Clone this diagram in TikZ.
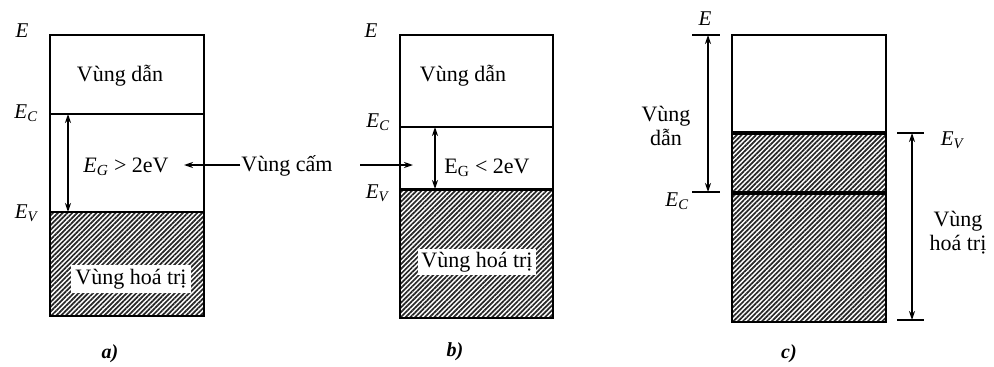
\documentclass[tikz,border=0pt]{standalone}
\usepackage{fontspec}
\setmainfont{Liberation Serif}
\usetikzlibrary{arrows.meta,patterns.meta}
\begin{document}
\begin{tikzpicture}[x=1pt,y=-1pt,
  lbl/.style={font=\fontsize{22}{24}\selectfont, inner sep=1pt},
  elbl/.style={font=\fontsize{21}{23}\selectfont\itshape, inner sep=0pt},
  boxline/.style={line width=2pt},
  hatch/.style={pattern={Lines[angle=45,distance=3.4pt,line width=1.7pt]}, pattern color=black!85},
  arr/.style={line width=1.8pt,{Stealth[length=9pt,width=6pt]}-{Stealth[length=9pt,width=6pt]}},
  sarr/.style={line width=1.8pt,-{Stealth[length=9pt,width=6pt]}},
  tick/.style={line width=1.8pt},
  sublbl/.style={font=\fontsize{20}{22}\selectfont\bfseries\itshape}]
\useasboundingbox (0,0) rectangle (994,367);
% ---------- a ----------
\fill[white] (50,212) rectangle (204,316);
\fill[hatch] (50,212) rectangle (204,316);
\draw[boxline] (50,35) rectangle (204,316);
\draw[boxline] (50,114) -- (204,114);
\draw[boxline] (50,212) -- (204,212);
\node[lbl] (ad) at (120,76) {Vùng dẫn};
\node[lbl, fill=white, inner sep=4pt] (ah) at (131,279) {Vùng hoá trị};
\node[elbl] (aE) at (22,31) {E};
\node[elbl] (aEC) at (26,113) {E\textsubscript{C}};
\node[elbl] (aEV) at (26,213) {E\textsubscript{V}};
\coordinate (aT) at (68,114);
\coordinate (aB) at (68,212);
\draw[arr] (aT) -- (aB);
\node[lbl] (aG) at (126,167) {\textit{E}\textsubscript{\textit{G}} > 2eV};
\node[lbl] (cam) at (287,166) {Vùng cấm};
\coordinate (aArr) at (184,165);
\draw[sarr] (cam.west |- aArr) -- (aArr);
\node[sublbl] (la) at (110,354) {a)};
% ---------- b ----------
\fill[white] (400,189) rectangle (553,318);
\fill[hatch] (400,189) rectangle (553,318);
\draw[boxline] (400,35) rectangle (553,318);
\draw[line width=1.2pt] (400,127) -- (553,127);
\draw[line width=3pt] (400,189) -- (553,189);
\node[lbl] (bd) at (463,76) {Vùng dẫn};
\node[lbl, fill=white, inner sep=3pt] (bh) at (477,262) {Vùng hoá trị};
\node[elbl] (bE) at (371,31) {E};
\node[elbl] (bEC) at (378,122) {E\textsubscript{C}};
\node[elbl] (bEV) at (377,193) {E\textsubscript{V}};
\coordinate (bT) at (435,127);
\coordinate (bB) at (435,189);
\draw[arr] (bT) -- (bB);
\node[lbl] (bG) at (487,168) {E\textsubscript{G} < 2eV};
\coordinate (bS) at (360,165);
\coordinate (bArr) at (413,165);
\draw[sarr] (bS) -- (bArr);
\node[sublbl] (lb) at (455,352) {b)};
% ---------- c ----------
\fill[white] (732,133) rectangle (886,322);
\fill[hatch] (732,133) rectangle (886,322);
\draw[boxline] (732,35) rectangle (886,322);
\draw[line width=4pt] (732,133) -- (886,133);
\draw[line width=4pt] (732,193) -- (886,193);
\coordinate (cEl) at (692,35);
\coordinate (cEr) at (720,35);
\draw[tick] (cEl) -- (cEr);
\coordinate (cCl) at (692,192);
\coordinate (cCr) at (720,192);
\draw[tick] (cCl) -- (cCr);
\coordinate (cT) at (708,35);
\coordinate (cB) at (708,192);
\draw[arr] (cT) -- (cB);
\node[elbl] (cE) at (705,19) {E};
\node[elbl] (cEC) at (677,201) {E\textsubscript{C}};
\node[lbl, align=center] (cd) at (666,126) {Vùng\\dẫn};
\coordinate (cVl) at (897,133);
\coordinate (cVr) at (924,133);
\draw[tick] (cVl) -- (cVr);
\coordinate (cWl) at (897,320);
\coordinate (cWr) at (924,320);
\draw[tick] (cWl) -- (cWr);
\coordinate (cT2) at (912,133);
\coordinate (cB2) at (912,320);
\draw[arr] (cT2) -- (cB2);
\node[elbl] (cEV) at (952,140) {E\textsubscript{V}};
\node[lbl, align=center] (ch) at (958,233) {Vùng\\hoá trị};
\node[sublbl] (lc) at (789,354) {c)};
\end{tikzpicture}
\end{document}
